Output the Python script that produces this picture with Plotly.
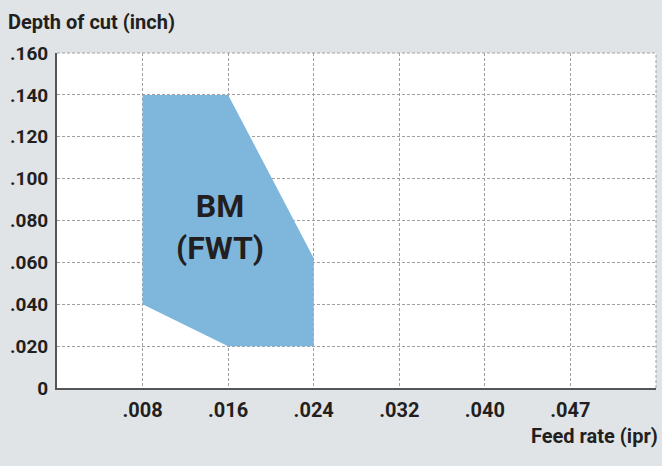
import plotly.graph_objects as go

# Data
x_ticks = [0.008, 0.016, 0.024, 0.032, 0.040, 0.048]
x_ticklabels = [".008", ".016", ".024", ".032", ".040", ".047"]
y_ticks = [0, 0.02, 0.04, 0.06, 0.08, 0.10, 0.12, 0.14, 0.16]
y_ticklabels = ["0", ".020", ".040", ".060", ".080", ".100", ".120", ".140", ".160"]

region_feed = [0.008, 0.016, 0.024, 0.024, 0.016, 0.008, 0.008]
region_depth = [0.140, 0.140, 0.062, 0.020, 0.020, 0.040, 0.140]
region_label = "BM<br>(FWT)"
region_label_pos = (0.0152, 0.077)

FONT = "Roboto, Liberation Sans, sans-serif"
TXT = "#231f20"

fig = go.Figure()
fig.add_trace(go.Scatter(
    x=region_feed, y=region_depth, mode="lines", fill="toself",
    fillcolor="rgb(127,183,220)", line=dict(width=0, color="rgba(0,0,0,0)"),
    hoverinfo="skip", showlegend=False,
))

fig.add_annotation(
    x=region_label_pos[0], y=region_label_pos[1], text="<b>" + region_label + "</b>",
    showarrow=False, font=dict(family=FONT, size=32, color=TXT), align="center",
)

fig.add_annotation(
    x=0, y=1, xref="paper", yref="paper", xanchor="left", yanchor="bottom",
    text="<b>Depth of cut (inch)</b>", showarrow=False,
    font=dict(family=FONT, size=20, color=TXT), xshift=-51, yshift=17,
)
fig.add_annotation(
    x=1, y=0, xref="paper", yref="paper", xanchor="right", yanchor="middle",
    text="<b>Feed rate (ipr)</b>", showarrow=False,
    font=dict(family=FONT, size=20, color=TXT), yshift=-48, xshift=4,
)

# dashed top/right border
fig.add_shape(type="line", xref="paper", yref="paper", x0=0, x1=1, y0=1, y1=1,
              line=dict(color="#a0a0a0", width=1, dash="3px,2px"), layer="above")
fig.add_shape(type="line", xref="paper", yref="paper", x0=1, x1=1, y0=0, y1=1,
              line=dict(color="#a0a0a0", width=1, dash="3px,2px"), layer="above")

fig.update_xaxes(
    range=[0, 0.056], tickvals=x_ticks, ticktext=x_ticklabels,
    showgrid=True, gridcolor="#a0a0a0", gridwidth=1, griddash="3px,2px",
    showline=True, linecolor="#555555", linewidth=2, zeroline=False,
    ticks="", ticklabelstandoff=3, automargin=False,
    tickfont=dict(family=FONT, size=20, color=TXT, weight="bold"),
    fixedrange=True,
)
fig.update_yaxes(
    range=[0, 0.16], tickvals=y_ticks, ticktext=y_ticklabels,
    showgrid=True, gridcolor="#a0a0a0", gridwidth=1, griddash="3px,2px",
    showline=True, linecolor="#555555", linewidth=2, zeroline=False,
    ticks="", ticklabelstandoff=3, automargin=False,
    tickfont=dict(family=FONT, size=19, color=TXT, weight="bold"),
    fixedrange=True,
)

fig.update_layout(
    width=662, height=466,
    margin=dict(l=57, r=6, t=53, b=78),
    paper_bgcolor="#e1e4e7", plot_bgcolor="white",
    showlegend=False,
)

fig.write_html("out.html", config={"displayModeBar": False},
               post_script="document.body.style.margin='0';")
